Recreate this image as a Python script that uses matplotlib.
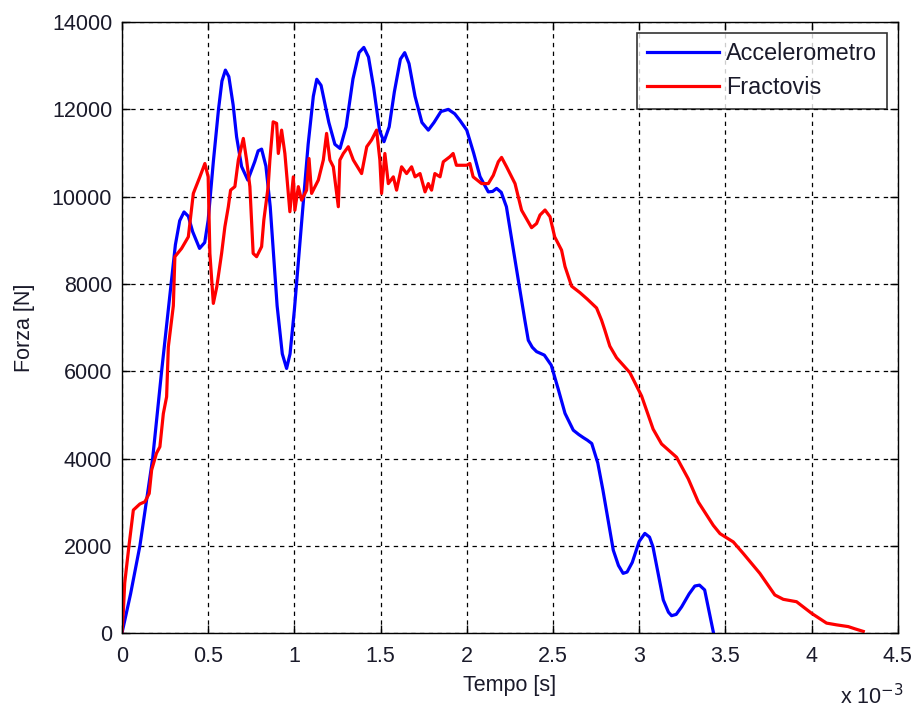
import matplotlib
matplotlib.use("Agg")
import matplotlib.pyplot as plt

# time in units of 1e-3 s, force in N
acc_t = [0, 0.05, 0.104, 0.178, 0.23, 0.285, 0.31, 0.335, 0.36, 0.385, 0.41, 0.45,
         0.48, 0.50, 0.53, 0.56, 0.58, 0.60, 0.62, 0.645, 0.665, 0.694, 0.73,
         0.77, 0.79, 0.81, 0.835, 0.86, 0.90, 0.93, 0.955, 0.975, 1.0, 1.04,
         1.08, 1.11, 1.13, 1.155, 1.20, 1.235, 1.265, 1.30, 1.34, 1.375, 1.403,
         1.43, 1.46, 1.495, 1.52, 1.55, 1.58, 1.615, 1.64, 1.665, 1.70, 1.74,
         1.777, 1.81, 1.85, 1.893, 1.93, 1.96, 2.0, 2.04, 2.077, 2.125, 2.15,
         2.173, 2.20, 2.23, 2.28, 2.337, 2.357, 2.38, 2.405, 2.45, 2.49, 2.53,
         2.57, 2.618, 2.65, 2.676, 2.70, 2.725, 2.76, 2.79, 2.85, 2.88, 2.907,
         2.93, 2.96, 3.0, 3.033, 3.06, 3.08, 3.14, 3.17, 3.188, 3.215, 3.246,
         3.29, 3.323, 3.35, 3.38, 3.43]
acc_f = [0, 900, 2000, 4000, 6000, 8000, 8900, 9450, 9650, 9550, 9200, 8815,
         8950, 9460, 10800, 12000, 12650, 12900, 12750, 12100, 11370, 10690, 10380,
         10800, 11050, 11090, 10700, 9770, 7500, 6400, 6065, 6400, 7400, 9310,
         11200, 12300, 12690, 12550, 11700, 11200, 11105, 11600, 12700, 13300, 13420,
         13200, 12500, 11500, 11260, 11600, 12400, 13150, 13300, 13050, 12300, 11700,
         11525, 11700, 11950, 12000, 11900, 11750, 11525, 11000, 10460, 10110, 10120,
         10190, 10100, 9770, 8550, 7170, 6710, 6550, 6450, 6370, 6140, 5600,
         5035, 4650, 4550, 4480, 4420, 4345, 3900, 3275, 1900, 1550, 1370,
         1400, 1620, 2100, 2285, 2200, 1980, 760, 480, 400, 430, 600,
         900, 1080, 1100, 990, 30]

frac_t = [0, 0.008, 0.016, 0.04, 0.066, 0.104, 0.133, 0.158, 0.172, 0.20, 0.22,
          0.24, 0.259, 0.269, 0.298, 0.307, 0.346, 0.385, 0.414, 0.452, 0.481,
          0.50, 0.51, 0.53, 0.55, 0.578, 0.597, 0.617, 0.63, 0.655, 0.675, 0.704,
          0.723, 0.742, 0.761, 0.781, 0.81, 0.823, 0.848, 0.858, 0.877, 0.897,
          0.907, 0.926, 0.945, 0.965, 0.974, 0.994, 1.003, 1.023, 1.042, 1.071,
          1.085, 1.10, 1.139, 1.168, 1.187, 1.206, 1.226, 1.255, 1.264, 1.284,
          1.313, 1.342, 1.371, 1.39, 1.42, 1.448, 1.477, 1.496, 1.506, 1.525,
          1.545, 1.574, 1.593, 1.622, 1.651, 1.68, 1.70, 1.729, 1.758, 1.777,
          1.796, 1.815, 1.845, 1.864, 1.902, 1.921, 1.94, 2.0, 2.018, 2.037,
          2.086, 2.125, 2.154, 2.183, 2.202, 2.231, 2.28, 2.318, 2.376, 2.405,
          2.425, 2.454, 2.483, 2.51, 2.55, 2.57, 2.608, 2.657, 2.70, 2.753,
          2.782, 2.80, 2.83, 2.869, 2.946, 3.014, 3.081, 3.13, 3.217, 3.285,
          3.343, 3.43, 3.469, 3.546, 3.604, 3.70, 3.787, 3.836, 3.913, 4.0,
          4.087, 4.145, 4.213, 4.251, 4.30]
frac_f = [0, 500, 1150, 1980, 2820, 2960, 3010, 3200, 3735, 4120, 4270,
          5030, 5415, 6560, 7500, 8625, 8815, 9080, 10075, 10455, 10760,
          10455, 8700, 7555, 7935, 8700, 9310, 9770, 10150, 10230, 10840, 11335,
          10840, 10230, 8700, 8625, 8855, 9465, 10230, 10840, 11715, 11680,
          10990, 11525, 10990, 10075, 9655, 10455, 9690, 10230, 9920, 10150,
          10875, 10075, 10380, 10840, 11450, 10840, 10685, 9770, 10840, 10990,
          11145, 10840, 10650, 10530, 11145, 11300, 11525, 10840, 10075, 10990,
          10300, 10455, 10150, 10685, 10530, 10685, 10455, 10530, 10110, 10300,
          10150, 10530, 10455, 10800, 10915, 10990, 10720, 10720, 10760, 10455,
          10300, 10300, 10490, 10800, 10900, 10685, 10300, 9690, 9290, 9385,
          9580, 9695, 9540, 9080, 8775, 8400, 7950, 7800, 7650, 7450,
          7170, 6955, 6575, 6310, 5970, 5435, 4675, 4335, 4030, 3535,
          3005, 2470, 2280, 2090, 1825, 1370, 875, 775, 720, 455,
          230, 190, 150, 100, 40]

x_ticks = [0, 0.5, 1, 1.5, 2, 2.5, 3, 3.5, 4, 4.5]
x_labels = ["0", "0.5", "1", "1.5", "2", "2.5", "3", "3.5", "4", "4.5"]
y_ticks = [0, 2000, 4000, 6000, 8000, 10000, 12000, 14000]

plt.rcParams['font.family'] = ['Liberation Sans', 'DejaVu Sans']
txt = '#1a1a2a'

fig = plt.figure(figsize=(9.17, 7.13), dpi=100)
ax = fig.add_axes([0.133, 0.112, 0.846, 0.857])

ax.plot(acc_t, acc_f, color='#0000ff', lw=2.3, label='Accelerometro')
ax.plot(frac_t, frac_f, color='#ff0000', lw=2.3, label='Fractovis')

ax.set_xlim(0, 4.5)
ax.set_ylim(0, 14000)
ax.set_xticks(x_ticks)
ax.set_xticklabels(x_labels)
ax.set_yticks(y_ticks)
ax.tick_params(direction='in', length=6, width=1, top=True, right=True,
               labelsize=15.5, colors='black', labelcolor=txt)
ax.tick_params(axis='y', pad=7)
ax.tick_params(axis='x', pad=9)
ax.grid(True, color='black', linestyle=(0, (3.5, 3.5)), linewidth=0.9)
for s in ax.spines.values():
    s.set_linewidth(1.0)

ax.set_xlabel('Tempo [s]', fontsize=15.5, color=txt, labelpad=6)
ax.set_ylabel('Forza [N]', fontsize=15.5, color=txt, labelpad=12)
fig.text(0.916, 0.012, r'x 10$^{-3}$', fontsize=15.5, color=txt)

leg = ax.legend(loc='upper right', fontsize=16.8, frameon=True, fancybox=False,
                edgecolor='black', borderaxespad=0.45, handlelength=3.1,
                handletextpad=0.3, labelspacing=0.45, borderpad=0.42)
leg.get_frame().set_linewidth(1.2)
for t in leg.get_texts():
    t.set_color(txt)

fig.savefig('out.png', dpi=100, facecolor='white')
